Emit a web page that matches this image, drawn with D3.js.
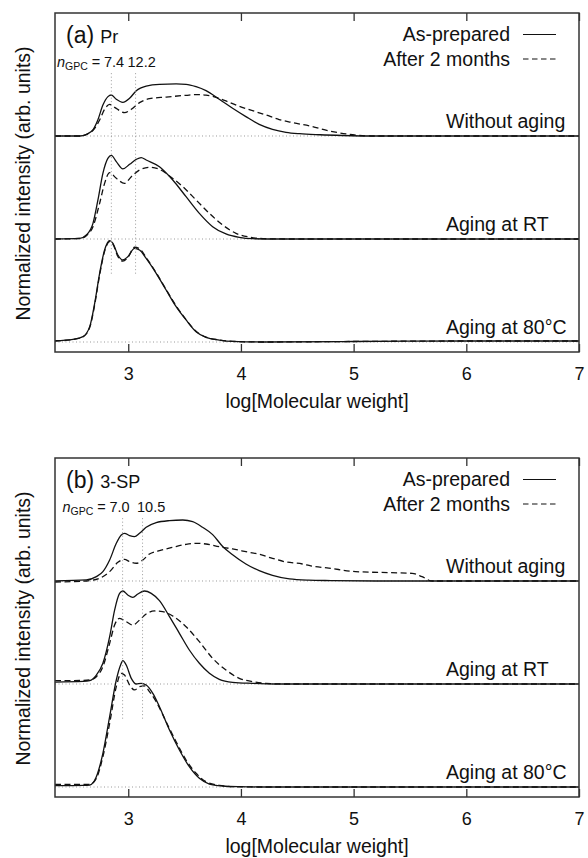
<!DOCTYPE html>
<html>
<head>
<meta charset="utf-8">
<script src="https://cdn.jsdelivr.net/npm/d3@7"></script>
<style>
  body { margin: 0; background: #fff; }
  svg { display: block; font-family: "Liberation Sans", Arial, sans-serif; }
</style>
</head>
<body>
<div id="chart"></div>
<script>
// GPC traces
// each point = [log(M), height above its own baseline]; 1 unit = distance between baselines

// categories / labels
const groups = ["Without aging", "Aging at RT", "Aging at 80°C"]
const groupOffsets = [2, 1, 0]
const legendLabels = ["As-prepared", "After 2 months"]
const xTicks = [3, 4, 5, 6, 7]

// (a) Pr
const prNGpc = ["7.4", "12.2"]
const prNLogM = [2.85, 3.065]

const prWithoutPrep = [[2.35,0],[2.57,0],[2.63,0.016],[2.69,0.065],[2.73,0.155],[2.775,0.30],[2.82,0.382],[2.85,0.398],[2.894,0.356],[2.952,0.327],[3.012,0.366],[3.071,0.44],[3.159,0.485],[3.277,0.502],[3.425,0.505],[3.513,0.502],[3.602,0.479],[3.69,0.44],[3.808,0.356],[3.926,0.269],[4.044,0.188],[4.162,0.113],[4.28,0.065],[4.4,0.036],[4.52,0.022],[4.7,0.012],[4.9,0.005],[5.2,0],[7,0]]
const prWithoutAged = [[2.35,0],[2.57,0],[2.63,0.016],[2.69,0.058],[2.746,0.155],[2.79,0.259],[2.835,0.307],[2.879,0.278],[2.967,0.227],[3.027,0.259],[3.1,0.324],[3.188,0.362],[3.336,0.378],[3.513,0.395],[3.602,0.402],[3.69,0.396],[3.779,0.375],[3.867,0.34],[3.985,0.288],[4.103,0.246],[4.221,0.204],[4.339,0.16],[4.457,0.13],[4.62,0.095],[4.78,0.05],[4.96,0.016],[5.16,0],[7,0]]
const prRtPrep = [[2.35,0],[2.57,0.006],[2.628,0.039],[2.687,0.152],[2.731,0.379],[2.775,0.638],[2.819,0.783],[2.85,0.812],[2.894,0.751],[2.952,0.68],[3.012,0.725],[3.071,0.773],[3.115,0.79],[3.159,0.767],[3.277,0.702],[3.395,0.573],[3.513,0.411],[3.631,0.249],[3.749,0.12],[3.867,0.049],[3.985,0.016],[4.103,0.003],[4.3,0],[7,0]]
const prRtAged = [[2.35,0],[2.57,0.005],[2.628,0.032],[2.687,0.12],[2.746,0.346],[2.79,0.54],[2.835,0.644],[2.894,0.589],[2.967,0.54],[3.027,0.605],[3.1,0.67],[3.188,0.696],[3.277,0.676],[3.366,0.612],[3.484,0.508],[3.602,0.379],[3.72,0.249],[3.838,0.136],[3.956,0.055],[4.074,0.019],[4.221,0.003],[4.4,0],[7,0]]
const pr80Prep = [[2.35,0.012],[2.51,0.026],[2.598,0.052],[2.658,0.149],[2.702,0.375],[2.746,0.667],[2.79,0.893],[2.835,0.984],[2.864,0.958],[2.908,0.845],[2.952,0.796],[2.996,0.828],[3.056,0.909],[3.1,0.893],[3.159,0.812],[3.248,0.667],[3.336,0.505],[3.425,0.343],[3.513,0.214],[3.602,0.1],[3.69,0.045],[3.808,0.019],[3.926,0.006],[4.2,0],[5,0.005],[6,0.01],[7,0.01]]
const pr80Aged = [[2.35,0.01],[2.51,0.024],[2.598,0.05],[2.658,0.14],[2.702,0.36],[2.746,0.65],[2.79,0.88],[2.835,0.975],[2.864,0.95],[2.908,0.83],[2.952,0.785],[2.996,0.82],[3.056,0.92],[3.1,0.905],[3.159,0.82],[3.248,0.672],[3.336,0.51],[3.425,0.35],[3.513,0.218],[3.602,0.104],[3.69,0.047],[3.808,0.02],[3.926,0.006],[4.2,0],[5,0.005],[6,0.01],[7,0.01]]

// (b) 3-SP
const spNGpc = ["7.0", "10.5"]
const spNLogM = [2.95, 3.127]

const spWithoutPrep = [[2.35,0],[2.628,0.01],[2.717,0.042],[2.775,0.091],[2.835,0.204],[2.894,0.366],[2.938,0.447],[2.967,0.463],[3.012,0.44],[3.056,0.43],[3.1,0.463],[3.159,0.521],[3.248,0.566],[3.366,0.586],[3.484,0.592],[3.572,0.576],[3.66,0.521],[3.749,0.45],[3.838,0.335],[3.926,0.255],[4.044,0.165],[4.162,0.1],[4.28,0.055],[4.43,0.02],[4.6,0.008],[4.8,0.004],[5.2,0],[7,0]]
const spWithoutAged = [[2.35,-0.01],[2.628,0],[2.746,0.026],[2.835,0.091],[2.908,0.181],[2.967,0.21],[3.012,0.188],[3.071,0.172],[3.13,0.204],[3.188,0.262],[3.277,0.294],[3.395,0.327],[3.513,0.356],[3.602,0.366],[3.69,0.359],[3.808,0.333],[3.926,0.311],[4.044,0.285],[4.162,0.259],[4.28,0.22],[4.398,0.185],[4.545,0.165],[4.62,0.146],[4.78,0.125],[5.018,0.091],[5.312,0.081],[5.519,0.074],[5.607,0.042],[5.696,0],[7,0]]
const spRtPrep = [[2.35,0.019],[2.6,0.025],[2.658,0.032],[2.717,0.087],[2.775,0.201],[2.835,0.46],[2.879,0.718],[2.923,0.88],[2.952,0.903],[2.996,0.864],[3.041,0.841],[3.085,0.874],[3.144,0.903],[3.204,0.88],[3.277,0.809],[3.366,0.654],[3.454,0.492],[3.542,0.33],[3.631,0.201],[3.72,0.104],[3.808,0.045],[3.926,0.016],[4.103,0.006],[4.3,0],[7,0]]
const spRtAged = [[2.35,0.032],[2.6,0.035],[2.658,0.039],[2.717,0.071],[2.775,0.168],[2.835,0.395],[2.879,0.573],[2.923,0.638],[2.982,0.605],[3.041,0.573],[3.1,0.621],[3.159,0.68],[3.233,0.709],[3.306,0.702],[3.395,0.66],[3.513,0.556],[3.631,0.411],[3.749,0.249],[3.867,0.136],[3.985,0.055],[4.103,0.023],[4.221,0.006],[4.4,0],[7,0]]
const sp80Prep = [[2.35,0.013],[2.6,0.016],[2.658,0.019],[2.717,0.1],[2.775,0.327],[2.835,0.683],[2.894,1.039],[2.932,1.184],[2.952,1.227],[2.982,1.184],[3.027,1.055],[3.071,1.0],[3.115,1.006],[3.159,0.99],[3.218,0.909],[3.277,0.78],[3.366,0.553],[3.454,0.359],[3.542,0.197],[3.631,0.084],[3.72,0.029],[3.838,0.01],[3.985,0.003],[4.2,0],[7,0]]
const sp80Aged = [[2.35,0.026],[2.6,0.026],[2.658,0.026],[2.717,0.084],[2.775,0.294],[2.835,0.618],[2.894,0.974],[2.938,1.104],[2.967,1.087],[3.012,0.99],[3.056,0.942],[3.1,0.974],[3.144,0.981],[3.188,0.926],[3.248,0.828],[3.336,0.634],[3.425,0.44],[3.513,0.262],[3.602,0.133],[3.69,0.052],[3.808,0.016],[3.956,0.003],[4.2,0],[7,0]]

const panels = [
    { tag: "(a)", name: "Pr", nGpc: prNGpc, nLogM: prNLogM,
      series: [[prWithoutPrep, prWithoutAged], [prRtPrep, prRtAged], [pr80Prep, pr80Aged]] },
    { tag: "(b)", name: "3-SP", nGpc: spNGpc, nLogM: spNLogM,
      series: [[spWithoutPrep, spWithoutAged], [spRtPrep, spRtAged], [sp80Prep, sp80Aged]] }
]

// layout
const width = 588, height = 858
const margin = { left: 55, right: 9 }
const panelTops = [13, 458], panelHeight = 339
const dashes = [null, "6,3.5"]
const ink = "#111", dotGray = "#9a9a9a"

let svg = d3.select("#chart")
    .append("svg")
    .attr("width", width)
    .attr("height", height)
    .attr("viewBox", [0, 0, width, height])

let x = d3.scaleLinear()
    .domain([2.35, 7])
    .range([margin.left, width - margin.right])

panels.forEach((p, pi) => {
    const top = panelTops[pi], bottom = top + panelHeight
    const g = svg.append("g")

    let y = d3.scaleLinear()
        .domain([-0.097, 3.194])
        .range([bottom, top])

    g.append("clipPath").attr("id", "clip" + pi)
        .append("rect")
        .attr("x", x(2.35)).attr("y", top)
        .attr("width", x(7) - x(2.35)).attr("height", bottom - top)

    const plot = g.append("g").attr("clip-path", `url(#clip${pi})`)

    // stacks drawn top to bottom so a lower trace hides the dotted baseline above it
    p.series.forEach((pair, gi) => {
        const base = groupOffsets[gi]
        const area = d3.area()
            .x(d => x(d[0]))
            .y0(y(base))
            .y1(d => y(base + d[1]))
            .curve(d3.curveMonotoneX)
        const line = d3.line()
            .x(d => x(d[0]))
            .y(d => y(base + d[1]))
            .curve(d3.curveMonotoneX)

        pair.forEach(s => {
            plot.append("path").attr("d", area(s)).attr("fill", "#fff")
        })

        plot.append("line")
            .attr("x1", x(2.35)).attr("x2", x(7))
            .attr("y1", y(base)).attr("y2", y(base))
            .attr("stroke", dotGray).attr("stroke-width", 1)
            .attr("stroke-dasharray", "1,2.5")

        pair.forEach((s, si) => {
            plot.append("path")
                .attr("d", line(s))
                .attr("fill", "none")
                .attr("stroke", ink)
                .attr("stroke-width", 1.3)
                .attr("stroke-dasharray", dashes[si])
        })

        g.append("text")
            .attr("x", 446)
            .attr("y", y(base) - 8)
            .attr("font-size", 19.5)
            .attr("fill", ink)
            .text(groups[gi])
    })

    // n_GPC guide lines
    p.nLogM.forEach(v => {
        g.append("line")
            .attr("x1", x(v)).attr("x2", x(v))
            .attr("y1", y(2.61)).attr("y2", y(0.64))
            .attr("stroke", dotGray).attr("stroke-width", 1)
            .attr("stroke-dasharray", "1,2.5")
    })

    // frame
    g.append("rect")
        .attr("x", x(2.35)).attr("y", top)
        .attr("width", x(7) - x(2.35)).attr("height", bottom - top)
        .attr("fill", "none").attr("stroke", "#333").attr("stroke-width", 1.5)

    // x axes (ticks inside)
    g.append("g")
        .attr("transform", `translate(0,${bottom})`)
        .call(d3.axisBottom(x).tickValues(xTicks).tickFormat(d3.format("d"))
            .tickSize(-8).tickSizeOuter(0).tickPadding(15))
        .call(a => a.select(".domain").remove())
        .call(a => a.selectAll("line").attr("stroke", "#333").attr("stroke-width", 1.3))
        .call(a => a.selectAll("text").attr("font-size", 18).attr("fill", ink)
            .attr("font-family", "'Liberation Sans', Arial, sans-serif"))

    g.append("g")
        .attr("transform", `translate(0,${top})`)
        .call(d3.axisTop(x).tickValues(xTicks).tickSize(-8).tickSizeOuter(0).tickFormat(""))
        .call(a => a.select(".domain").remove())
        .call(a => a.selectAll("line").attr("stroke", "#333").attr("stroke-width", 1.3))

    g.append("text")
        .attr("x", (x(2.35) + x(7)) / 2)
        .attr("y", bottom + 55.5)
        .attr("text-anchor", "middle")
        .attr("font-size", 19.5)
        .attr("fill", ink)
        .text("log[Molecular weight]")

    g.append("text")
        .attr("transform", `translate(30,${(top + bottom) / 2 + 1}) rotate(-90)`)
        .attr("text-anchor", "middle")
        .attr("font-size", 19.5)
        .attr("fill", ink)
        .text("Normalized intensity (arb. units)")

    // panel title
    const title = g.append("text")
        .attr("x", 66)
        .attr("y", top + 29.5)
        .attr("fill", ink)
    title.append("tspan").attr("font-size", 23).text(p.tag)
    title.append("tspan").attr("font-size", 18).attr("dx", 6).text(p.name)

    // n_GPC note
    const nx = pi === 0 ? [57, 104, 127.5] : [62.5, 109.5, 137]
    const note = g.append("text")
        .attr("y", top + 54)
        .attr("font-size", 14.5)
        .attr("fill", ink)
    note.append("tspan").attr("x", nx[0]).attr("font-style", "italic").text("n")
    note.append("tspan").attr("font-size", 10.5).attr("dy", 3).text("GPC")
    note.append("tspan").attr("dy", -3).text(" =")
    note.append("tspan").attr("x", nx[1]).text(p.nGpc[0])
    note.append("tspan").attr("x", nx[2]).text(p.nGpc[1])

    // legend
    legendLabels.forEach((lab, li) => {
        const ly = top + 28 + li * 24.5
        g.append("text")
            .attr("x", 510)
            .attr("y", ly)
            .attr("text-anchor", "end")
            .attr("font-size", 19.5)
            .attr("fill", ink)
            .text(lab)
        g.append("line")
            .attr("x1", 523).attr("x2", 556)
            .attr("y1", ly - 6.5).attr("y2", ly - 6.5)
            .attr("stroke", ink).attr("stroke-width", 1.2)
            .attr("stroke-dasharray", li ? "5.5,3.5" : null)
    })
})
</script>
</body>
</html>
